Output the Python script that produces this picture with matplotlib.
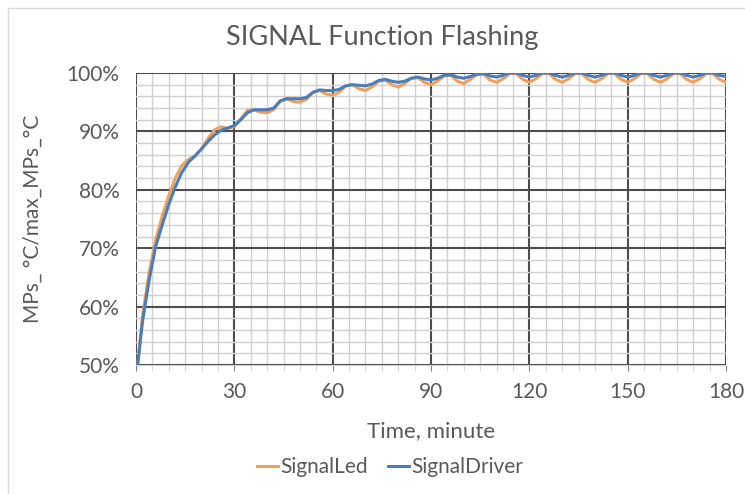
import matplotlib.pyplot as plt
from matplotlib.patches import Rectangle
from matplotlib.ticker import MultipleLocator, PercentFormatter

plt.rcParams['font.family'] = ['Lato', 'DejaVu Sans']

# sample times, minutes
time_min = [0.5, 2, 4, 6, 8, 10, 12, 14, 16, 18, 20, 22, 24, 26, 28, 30,
            32, 34, 36, 38, 40, 42, 44, 46, 48, 50, 52, 54, 56, 58, 60,
            62, 64, 66, 68, 70, 72, 74, 76, 78, 80, 82, 84, 86, 88, 90,
            92, 94, 96, 98, 100, 102, 104, 106, 108, 110, 112, 114, 116, 118, 120,
            122, 124, 126, 128, 130, 132, 134, 136, 138, 140, 142, 144, 146, 148, 150,
            152, 154, 156, 158, 160, 162, 164, 166, 168, 170, 172, 174, 176, 178, 180]

# normalised temperature, %
signal_led = [50.0, 58.5, 65.8, 71.5, 75.5, 79.0, 82.0, 84.2, 85.2, 85.8, 87.0, 88.8, 90.3, 90.8, 90.5, 90.8,
              92.2, 93.6, 93.7, 93.3, 93.2, 93.7, 95.2, 95.6, 95.1, 95.0, 95.5, 96.7, 97.0, 96.4, 96.2,
              96.7, 97.8, 98.0, 97.3, 97.0, 97.6, 98.6, 98.8, 98.0, 97.6, 98.2, 99.1, 99.2, 98.4, 98.0,
              98.6, 99.5, 99.6, 98.6, 98.2, 98.9, 99.7, 99.8, 98.8, 98.4, 99.0, 99.9, 99.9, 98.9, 98.4,
              99.0, 99.9, 99.9, 98.9, 98.4, 99.0, 99.9, 99.9, 98.9, 98.4, 99.0, 99.9, 99.9, 98.9, 98.4,
              99.0, 99.9, 99.9, 98.9, 98.4, 99.0, 99.9, 99.9, 98.9, 98.4, 99.0, 99.9, 99.9, 98.9, 98.4]

signal_driver = [50.0, 57.5, 64.5, 70.3, 74.0, 77.5, 80.5, 83.0, 84.7, 85.8, 87.0, 88.3, 89.4, 90.2, 90.6, 91.0,
                 92.0, 93.2, 93.7, 93.7, 93.7, 94.0, 95.2, 95.6, 95.6, 95.6, 95.8, 96.7, 97.1, 97.0, 97.0,
                 97.2, 97.8, 98.0, 97.9, 97.8, 98.1, 98.7, 98.9, 98.6, 98.4, 98.6, 99.1, 99.3, 99.0, 98.8,
                 99.1, 99.6, 99.7, 99.3, 99.1, 99.4, 99.8, 99.9, 99.5, 99.3, 99.6, 100.0, 100.0, 99.6, 99.3,
                 99.6, 100.0, 100.0, 99.6, 99.3, 99.6, 100.0, 100.0, 99.6, 99.3, 99.6, 100.0, 100.0, 99.6, 99.3,
                 99.6, 100.0, 100.0, 99.6, 99.3, 99.6, 100.0, 100.0, 99.6, 99.3, 99.6, 100.0, 100.0, 99.6, 99.4]

x_ticks = [0, 30, 60, 90, 120, 150, 180]

text_col = '#595959'
W, H = 745, 494

fig = plt.figure(figsize=(W / 100, H / 100), dpi=100)
# chart area border
fig.patches.append(Rectangle((8 / W, -0.1), 1.2, 1 - 8 / H + 0.1,
                             transform=fig.transFigure, fill=False,
                             edgecolor='#d9d9d9', lw=1))

ax = fig.add_axes([136 / W, 1 - 365 / H, 590 / W, 292 / H])

ax.plot(time_min, signal_led, color='#F0A05A', lw=2.2, label='SignalLed', zorder=3)
ax.plot(time_min, signal_driver, color='#4A7EBB', lw=2.2, label='SignalDriver', zorder=4)

ax.set_xlim(0, 180)
ax.set_ylim(50, 100)
ax.set_xticks(x_ticks)
ax.xaxis.set_minor_locator(MultipleLocator(5))
ax.yaxis.set_major_locator(MultipleLocator(10))
ax.yaxis.set_minor_locator(MultipleLocator(2))
ax.yaxis.set_major_formatter(PercentFormatter(decimals=0))

ax.grid(which='major', color='#4d4d4d', lw=1.5)
ax.grid(which='minor', color='#cfcfcf', lw=1.0)
ax.set_axisbelow(True)

for side in ['top', 'right', 'left']:
    ax.spines[side].set_visible(False)
ax.spines['bottom'].set_color('#cfcfcf')

ax.tick_params(axis='y', which='both', length=0, labelsize=15, labelcolor=text_col, pad=12)
ax.tick_params(axis='x', which='major', length=4, color='#7f7f7f', labelsize=15,
               labelcolor=text_col, pad=8)
ax.tick_params(axis='x', which='minor', length=4, color='#cfcfcf')

ax.set_xlabel('Time, minute', fontsize=16, color=text_col, va='center')
ax.xaxis.set_label_coords(0.5, (365 - 431) / 292)
ax.set_ylabel('MPs_ °C/max_MPs_°C', fontsize=15, color=text_col, va='center')
ax.yaxis.set_label_coords((33 - 136) / 590, 0.5)

fig.text(382 / W, 1 - 37 / H, 'SIGNAL Function Flashing', ha='center', va='center',
         fontsize=19.5, color=text_col)

fig.legend(loc='center', bbox_to_anchor=(390 / W, 1 - 467 / H), ncol=2, frameon=False,
           fontsize=15, handlelength=1.0, handletextpad=0.1, columnspacing=1.0,
           labelcolor=text_col)

fig.savefig('out.png', dpi=100)
